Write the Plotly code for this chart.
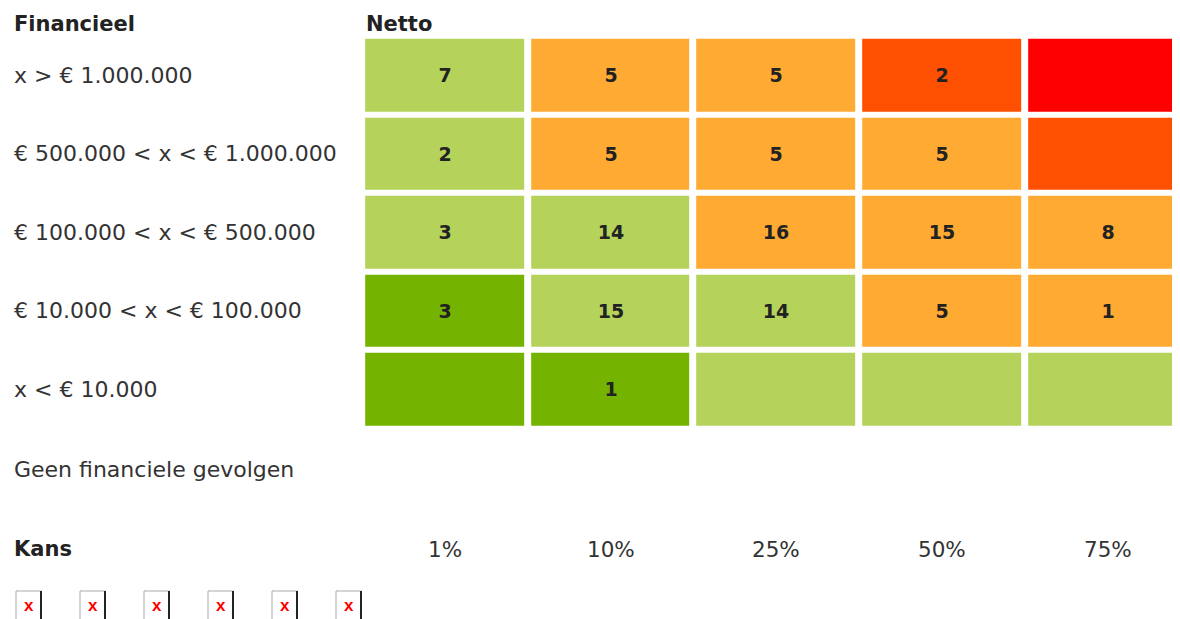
import plotly.graph_objects as go

# ---- data ----
row_labels = ["x > € 1.000.000", "€ 500.000 < x < € 1.000.000", "€ 100.000 < x < € 500.000",
              "€ 10.000 < x < € 100.000", "x < € 10.000"]
col_labels = ["1%", "10%", "25%", "50%", "75%"]
counts = [
    ["7", "5", "5", "2", ""],
    ["2", "5", "5", "5", ""],
    ["3", "14", "16", "15", "8"],
    ["3", "15", "14", "5", "1"],
    ["", "1", "", "", ""],
]
# risk level per cell: 0 dark green, 1 light green, 2 orange, 3 red-orange, 4 red
levels = [
    [1, 2, 2, 3, 4],
    [1, 2, 2, 2, 3],
    [1, 1, 2, 2, 2],
    [0, 1, 1, 2, 2],
    [0, 0, 1, 1, 1],
]
level_colors = ["#74B300", "#B5D25B", "#FFAA33", "#FF4F00", "#FF0000"]
title_left = "Financieel"
title_grid = "Netto"
extra_row = "Geen financiele gevolgen"
axis_title = "Kans"
n_icons = 6

OFF = 8  # page body margin in the browser
W, H = 1180, 619 - OFF
FONT = "DejaVu Sans"
TXT = "#333333"

# discrete colorscale
cs = []
n = len(level_colors)
for i, c in enumerate(level_colors):
    cs.append([i / n, c])
    cs.append([(i + 1) / n, c])

xs = list(range(len(col_labels)))
ys = list(range(len(row_labels)))

fig = go.Figure()
fig.add_trace(go.Heatmap(
    x=xs, y=ys, z=levels, zmin=-0.5, zmax=n - 0.5,
    colorscale=cs, showscale=False, xgap=7, ygap=6,
    text=counts, texttemplate="%{text}",
    textfont=dict(family=FONT, size=19, color="#222222", weight="bold"),
    hoverinfo="skip",
))

# pixel geometry of the grid (in screen pixels; converted by removing OFF)
pitch_x, cx0 = 165.7, 445.0 - OFF
pitch_y, cy0 = 78.5, 75.0 - OFF
xr = [-cx0 / pitch_x, (W - cx0) / pitch_x]
yr = [(H - cy0) / pitch_y, -cy0 / pitch_y]

ann = []
def pxy(py):
    return (py - OFF - cy0) / pitch_y
def pxx(px):
    return (px - OFF) / W
def pyp(py):
    return 1 - (py - OFF) / H

left_x = pxx(12)
ann.append(dict(text="<b>" + title_left + "</b>", x=left_x, xref="paper", y=pxy(24), yref="y",
                xanchor="left", yanchor="middle", showarrow=False,
                font=dict(family=FONT, size=21, color="#222222")))
ann.append(dict(text="<b>" + title_grid + "</b>", x=pxx(364), xref="paper", y=pxy(24), yref="y",
                xanchor="left", yanchor="middle", showarrow=False,
                font=dict(family=FONT, size=21, color="#222222")))
for i, lab in enumerate(row_labels):
    ann.append(dict(text=lab, x=left_x, xref="paper", y=i, yref="y", xanchor="left",
                    yanchor="middle", showarrow=False, font=dict(family=FONT, size=22, color=TXT)))
ann.append(dict(text=extra_row, x=left_x, xref="paper", y=pxy(469), yref="y", xanchor="left",
                yanchor="middle", showarrow=False, font=dict(family=FONT, size=22, color=TXT)))
ann.append(dict(text="<b>" + axis_title + "</b>", x=left_x, xref="paper", y=pxy(549), yref="y",
                xanchor="left", yanchor="middle", showarrow=False,
                font=dict(family=FONT, size=21, color="#222222")))
for j, lab in enumerate(col_labels):
    ann.append(dict(text=lab, x=j, xref="x", y=pxy(549), yref="y", xanchor="center",
                    yanchor="middle", showarrow=False, font=dict(family=FONT, size=21.5, color=TXT)))

# broken-image icons
shapes = []
for k in range(n_icons):
    x0 = 16 + 64 * k
    x1 = x0 + 25
    y0, y1 = 591, 625
    shapes.append(dict(type="rect", xref="paper", yref="paper",
                       x0=pxx(x0), x1=pxx(x1), y0=pyp(y1), y1=pyp(y0),
                       line=dict(color="#AAAAAA", width=1), fillcolor="white"))
    shapes.append(dict(type="line", xref="paper", yref="paper",
                       x0=pxx(x1), x1=pxx(x1), y0=pyp(y1), y1=pyp(y0),
                       line=dict(color="#222222", width=2)))
    ann.append(dict(text="<b>x</b>", x=pxx(x0 + 13), xref="paper", y=pyp(605), yref="paper",
                    xanchor="center", yanchor="middle", showarrow=False,
                    font=dict(family="Liberation Sans", size=17, color="#FF0000")))

fig.update_layout(
    width=W, height=H, margin=dict(l=0, r=0, t=0, b=0),
    paper_bgcolor="white", plot_bgcolor="white",
    xaxis=dict(range=xr, visible=False, fixedrange=True),
    yaxis=dict(range=yr, visible=False, fixedrange=True),
    annotations=ann, shapes=shapes, showlegend=False,
)
fig.write_html("out.html")
